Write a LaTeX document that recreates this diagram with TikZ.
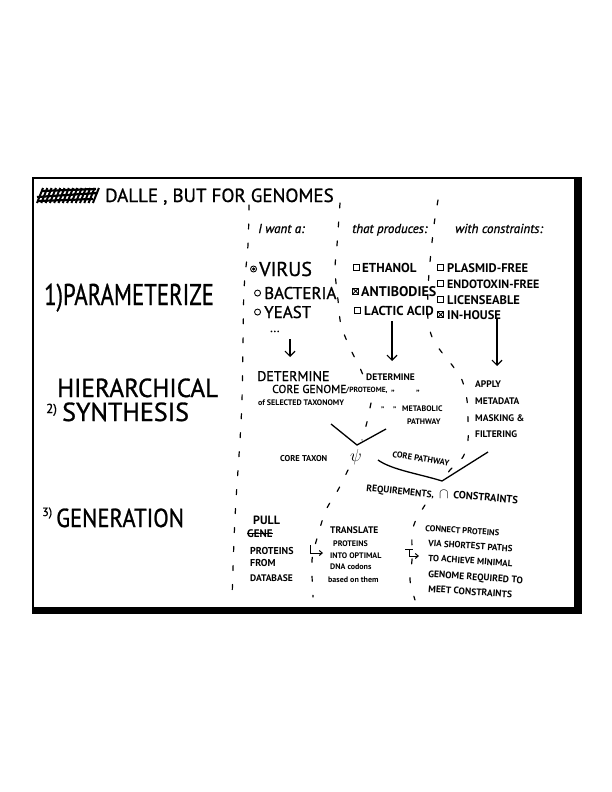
\documentclass[tikz,border=0pt]{standalone}
\usepackage{fontspec}
\setmainfont{PT Sans}
\newfontfamily\penfont{PT Sans}[FakeBold=1]
\usepackage{graphicx}
\usetikzlibrary{positioning,arrows.meta}

\begin{document}
\begin{tikzpicture}[x=1pt, y=-1pt, >={Straight Barb[length=5pt,width=10pt]},
            pen/.style={anchor=base west, inner sep=0pt, font=\penfont\fontsize{#1}{#1}\selectfont},
            felt/.style={anchor=base west, inner sep=0pt, font=\bfseries\fontsize{#1}{#1}\selectfont},
            hdr/.style={anchor=base west, inner sep=0pt, font=\penfont\itshape\fontsize{#1}{#1}\selectfont},
            divider/.style={line width=1.2pt, line cap=round, dash pattern=on 5pt off 14pt},
            radio/.style={circle, draw, line width=.9pt, inner sep=0pt, minimum size=6pt},
            radiox/.style={radio, path picture={\fill (path picture bounding box.center) circle (1.7pt);}},
            cbox/.style={rectangle, draw, line width=.9pt, inner sep=0pt, minimum size=6pt},
            cboxx/.style={cbox, path picture={\draw (path picture bounding box.south west) -- (path picture bounding box.north east) (path picture bounding box.north west) -- (path picture bounding box.south east);}},
            hook/.style={-{Straight Barb[length=3pt,width=5pt]}, line width=1pt}]
            \fill[white] (0,0) rectangle (612,792);
            \useasboundingbox (0,0) rectangle (612,792);
            \draw[line width=2pt] (33,610) -- (33,178) -- (578,178);
            \fill (574,177) rectangle (582,614);
            \fill (32,607) rectangle (582,614);

            \foreach \i in {0,...,13}
                \draw[line width=2pt] (37+4.3*\i,203) -- (43+4.3*\i,188);
            \draw[line width=2.2pt] (37,197) -- (97,193) (38,201) -- (93,199) (42,191) -- (96,189);
            \node[pen=19] (title) at (105,202) {DALLE , BUT FOR GENOMES};

            \node[hdr=13] (want) at (258,233) {I want a:};
            \node[hdr=13] (produces) at (352,233) {that produces:};
            \node[hdr=13] (constr) at (455,233) {with constraints:};

            \node[pen=30] (param) at (44,305) {\scalebox{.76}[1]{1)PARAMETERIZE}};
            \node[pen=26] (hier) at (57,397) {\scalebox{.97}[1]{HIERARCHICAL}};
            \node[pen=26] (synth) at (62,421) {SYNTHESIS};
            \node[pen=13] (two) at (46,413) {2)};
            \node[pen=12] (three) at (42,516) {3)};
            \node[pen=26] (gen) at (56,527) {\scalebox{.87}[1]{GENERATION}};

            \node[pen=20] (virus) at (259,276) {VIRUS};
            \node[radiox, left=2pt of virus] (virusdot) {};
            \node[pen=17] (bacteria) at (264,299) {BACTERIA};
            \node[radio, left=3pt of bacteria] (bactdot) {};
            \node[pen=17] (yeast) at (264,318) {YEAST};
            \node[radio, left=3pt of yeast] (yeastdot) {};
            \node[pen=12] (more) at (270,332) {...};

            \node[felt=13] (ethanol) at (362,272) {ETHANOL};
            \node[cbox, left=2pt of ethanol] (ethbox) {};
            \node[felt=14] (antib) at (361,296) {ANTIBODIES};
            \node[cboxx, left=2pt of antib] (antbox) {};
            \node[felt=13] (lactic) at (364,315) {LACTIC ACID};
            \node[cbox, left=3pt of lactic] (lacbox) {};

            \node[felt=12.5] (plasmid) at (447,272) {PLASMID-FREE};
            \node[cbox, left=3pt of plasmid] (plabox) {};
            \node[felt=12] (endo) at (447,288) {ENDOTOXIN-FREE};
            \node[cbox, left=3pt of endo] (endbox) {};
            \node[felt=12.5] (licen) at (447,304) {LICENSEABLE};
            \node[cbox, left=3pt of licen] (licbox) {};
            \node[felt=12.5] (house) at (447,319) {IN-HOUSE};
            \node[cboxx, left=3pt of house] (houbox) {};

            \coordinate (a1s) at (290,339);
            \coordinate (a1e) at (290,357);
            \coordinate (a2s) at (392,321);
            \coordinate (a2e) at (392,361);
            \coordinate (a3s) at (497,318);
            \coordinate (a3e) at (497,366);
            \draw[->, line width=1.2pt] (a1s) -- (a1e);
            \draw[->, line width=1.2pt] (a2s) -- (a2e);
            \draw[->, line width=1.2pt] (a3s) -- (a3e);

            \node[pen=14] (deta) at (257,381) {DETERMINE};
            \node[pen=11.5] (coregen) at (272,393) {CORE GENOME};
            \node[felt=7.5] (prot) at (346,392) {/PROTEOME,};
            \node[felt=8] (select) at (258,405) {of SELECTED TAXONOMY};
            \node[felt=9.5] (detb) at (366,380) {DETERMINE};
            \node[felt=9] (dittoa) at (391,396) {"};
            \node[felt=9] (dittob) at (416,396) {"};
            \node[felt=8] (dittoc) at (381,412) {"};
            \node[felt=8] (dittod) at (393,412) {"};
            \node[felt=8] (metab) at (402,411) {METABOLIC};
            \node[felt=8] (pathw) at (407,424) {PATHWAY};

            \node[felt=9.5] (apply) at (475,387) {APPLY};
            \node[felt=9.5] (metad) at (475,404) {METADATA};
            \node[felt=9.5] (mask) at (475,421) {MASKING \&};
            \node[felt=9.5] (filt) at (475,437) {FILTERING};

            \coordinate (v1l) at (331,424);
            \coordinate (v1b) at (357,445);
            \coordinate (v1r) at (386,429);
            \draw[line width=1.3pt] (v1l) -- (v1b) -- (v1r);
            \node[felt=8.5] (taxon) at (280,461) {CORE TAXON};
            \node[font=\fontsize{17}{17}\selectfont, inner sep=0pt] (merge) at (356,457) {$\psi$};
            \node[felt=8.5, rotate=-9] (corepath) at (392,457) {CORE PATHWAY};

            \coordinate (v2l) at (378,460);
            \coordinate (v2b) at (442,481);
            \coordinate (v2r) at (488,452);
            \draw[line width=1.3pt] (v2l) .. controls (392,470) and (420,474) .. (v2b) -- (v2r);
            \node[felt=9.5, rotate=-6] (requ) at (366,491) {REQUIREMENTS,};
            \node[font=\bfseries\fontsize{15}{15}\selectfont, inner sep=0pt] (inter) at (444,494) {$\cap$};
            \node[felt=10.5, rotate=-5] (cons) at (453,498) {CONSTRAINTS};

            \node[felt=12] (pull) at (253,524) {PULL};
            \node[felt=11] (gene) at (247,537) {GENE};
            \draw[line width=1pt] (gene.west) -- (gene.east);
            \node[felt=10] (prots) at (250,554) {PROTEINS};
            \node[felt=10] (from) at (250,566) {FROM};
            \node[felt=9.5] (dbase) at (250,581) {DATABASE};

            \node[felt=9.5] (transl) at (330,533) {TRANSLATE};
            \node[felt=8] (protb) at (333,546) {PROTEINS};
            \node[felt=8] (into) at (330,558) {INTO OPTIMAL};
            \node[felt=8] (dna) at (330,569) {DNA codons};
            \node[felt=8] (based) at (328,582) {based on them};

            \node[felt=8.5, rotate=-4] (conn) at (425,531) {CONNECT PROTEINS};
            \node[felt=9, rotate=-4] (via) at (428,546) {VIA SHORTEST PATHS};
            \node[felt=9, rotate=-4] (achieve) at (428,561) {TO ACHIEVE MINIMAL};
            \node[felt=9.5, rotate=-4] (genreq) at (428,577) {GENOME REQUIRED TO};
            \node[felt=9.5, rotate=-4] (meet) at (428,592) {MEET CONSTRAINTS};

            \coordinate (h1s) at (310,545);
            \coordinate (h1e) at (323,553);
            \draw[hook] (h1s) |- (h1e);
            \coordinate (h2s) at (409,549);
            \coordinate (h2e) at (419,556);
            \draw[line width=1pt] (405,549) -- (413,549);
            \draw[hook] (h2s) |- (h2e);

            \draw[divider] plot[smooth] coordinates {(249,205) (248,245) (244,290) (243,345) (242,400) (240,440) (236,500) (234,540) (232,600)};
            \draw[divider] plot[smooth] coordinates {(340,203) (337,245) (335,270) (338,300) (341,325) (350,348) (360,368) (365,380)};
            \draw[divider] plot[smooth] coordinates {(371,403) (367,422) (362,440)};
            \draw[divider] plot[smooth] coordinates {(348,470) (338,490) (326,510) (318,535) (312,560) (313,597)};
            \draw[divider] plot[smooth] coordinates {(438,200) (434,225) (430,262) (428,290) (428,320) (432,337) (440,350) (452,365) (462,380) (467,400) (468,420) (468,440) (463,457) (450,470) (443,480)};
            \draw[divider] plot[smooth] coordinates {(425,505) (415,522) (412,535) (412,560) (410,580) (415,600)};
        \end{tikzpicture}
\end{document}
